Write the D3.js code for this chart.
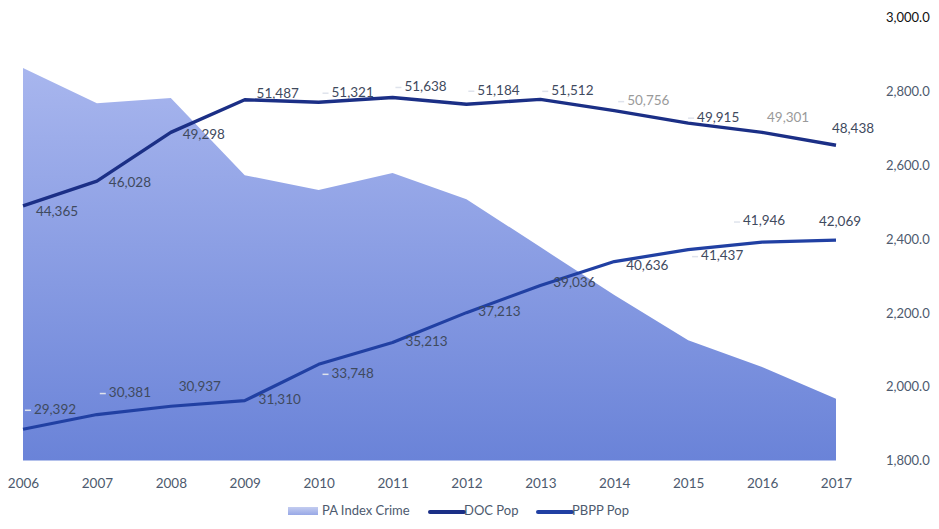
<!DOCTYPE html>
<html>
<head>
<meta charset="utf-8">
<script src="https://cdn.jsdelivr.net/npm/d3@7"></script>
<style>
  html, body { margin: 0; padding: 0; background: #fff; }
  svg { display: block; font-family: Lato, "Open Sans", sans-serif; }
</style>
</head>
<body>
<svg id="chart" width="939" height="529"></svg>
<script>
// Years on the x axis
const years = [2006, 2007, 2008, 2009, 2010, 2011, 2012, 2013, 2014, 2015, 2016, 2017];
// PA Index Crime (right axis)
const crime = [2863, 2768, 2782, 2573, 2533, 2579, 2508, 2378, 2248, 2126, 2053, 1967];
// DOC population
const docPop = [44365, 46028, 49298, 51487, 51321, 51638, 51184, 51512, 50756, 49915, 49301, 48438];
// PBPP population
const pbppPop = [29392, 30381, 30937, 31310, 33748, 35213, 37213, 39036, 40636, 41437, 41946, 42069];
// Right axis tick values
const rightTicks = [1800, 2000, 2200, 2400, 2600, 2800, 3000];
const seriesNames = ["PA Index Crime", "DOC Pop", "PBPP Pop"];

// Label placement (offset of each data label from its point, px)
const docLabelOffsets = [[34, 7], [33, 2], [33, 3], [33, -5], [34, -9], [33, -10], [32, -13], [32, -8], [34, -9], [30, -5], [26, -14], [17, -16]];
const pbppLabelOffsets = [[32, -19], [33, -21], [29, -19], [35, 0], [34, 10], [34, 0], [33, 0], [34, -2], [33, 5], [34, 7], [2, -20], [4, -18]];
const docLeaders = new Set([2010, 2011, 2012, 2013, 2014, 2015]);
const pbppLeaders = new Set([2006, 2007, 2010, 2015, 2016]);
const docMuted = new Set([2014, 2016]);

const svg = d3.select("#chart");
const fmt = d3.format(",");

const x = d3.scalePoint().domain(years).range([23, 836]);
const yRight = d3.scaleLinear().domain([1800, 3000]).range([460.5, 17.5]);
const yLeft = d3.scaleLinear().domain([27300, 57000]).range([460.5, 17.5]);

// Gradient for the crime area
const defs = svg.append("defs");
const grad = defs.append("linearGradient")
  .attr("id", "crimeFill").attr("x1", 0).attr("y1", 0).attr("x2", 0).attr("y2", 1);
grad.append("stop").attr("offset", "0%").attr("stop-color", "#a8b6ee");
grad.append("stop").attr("offset", "100%").attr("stop-color", "#6a83d8");
const lgGrad = defs.append("linearGradient")
  .attr("id", "legendFill").attr("x1", 0).attr("y1", 0).attr("x2", 0).attr("y2", 1);
lgGrad.append("stop").attr("offset", "0%").attr("stop-color", "#c3ccf0");
lgGrad.append("stop").attr("offset", "100%").attr("stop-color", "#98a8e6");

// Crime area
const area = d3.area()
  .x((d, i) => x(years[i]))
  .y0(yRight(1800))
  .y1(d => yRight(d));
svg.append("path")
  .datum(crime)
  .attr("d", area)
  .attr("fill", "url(#crimeFill)");

// Right axis labels
const rAxis = d3.axisRight(yRight).tickValues(rightTicks)
  .tickFormat(d3.format(",.1f")).tickSize(0).tickPadding(0);
const rg = svg.append("g").attr("transform", "translate(886,0)").call(rAxis);
rg.select(".domain").remove();
rg.selectAll("text")
  .attr("font-size", 13)
  .attr("font-family", "Lato, 'Open Sans', sans-serif")
  .attr("fill", d => d === 3000 ? "#111" : "#4d5a6e");

// Bottom axis labels
const bAxis = d3.axisBottom(x).tickSize(0).tickPadding(0);
const bg = svg.append("g").attr("transform", "translate(0,478)").call(bAxis);
bg.select(".domain").remove();
bg.selectAll("text")
  .attr("font-size", 13.5)
  .attr("font-family", "Lato, 'Open Sans', sans-serif")
  .attr("fill", "#4d5a6e");

// Lines
const line = d3.line().x((d, i) => x(years[i])).y(d => yLeft(d));
svg.append("path").datum(docPop).attr("d", line)
  .attr("fill", "none").attr("stroke", "#1b2f86").attr("stroke-width", 3.4)
  .attr("stroke-linejoin", "round");
svg.append("path").datum(pbppPop).attr("d", line)
  .attr("fill", "none").attr("stroke", "#2140a3").attr("stroke-width", 3.2)
  .attr("stroke-linejoin", "round");

// Data labels with faint leader lines
function drawLabels(values, offsets, leaders, muted) {
  const g = svg.append("g");
  values.forEach((v, i) => {
    const px = x(years[i]), py = yLeft(v);
    const lx = px + offsets[i][0], ly = py + offsets[i][1];
    const t = g.append("text")
      .attr("x", lx).attr("y", ly)
      .attr("text-anchor", "middle").attr("dominant-baseline", "middle")
      .attr("font-size", 13.5)
      .attr("fill", muted.has(years[i]) ? "#9a9a9a" : "#3f4a5e")
      .text(fmt(v));
    if (leaders.has(years[i])) {
      const w = t.node().getComputedTextLength();
      const left = lx - w / 2 - 3;
      g.insert("path", "text")
        .attr("d", `M${left - 6},${ly} L${left},${ly}`)
        .attr("stroke", "#dfe3ec").attr("stroke-width", 1.5).attr("fill", "none");
    }
  });
}
drawLabels(docPop, docLabelOffsets, docLeaders, docMuted);
drawLabels(pbppPop, pbppLabelOffsets, pbppLeaders, new Set());

// Legend
const lg = svg.append("g").attr("font-size", 13).attr("fill", "#4d5a6e");
lg.append("rect").attr("x", 288).attr("y", 507).attr("width", 30).attr("height", 8)
  .attr("fill", "url(#legendFill)");
lg.append("text").attr("x", 322).attr("y", 512).attr("dominant-baseline", "middle").text(seriesNames[0]);
lg.append("line").attr("x1", 430).attr("x2", 464).attr("y1", 512).attr("y2", 512)
  .attr("stroke", "#1b2f86").attr("stroke-width", 4).attr("stroke-linecap", "round");
lg.append("text").attr("x", 464).attr("y", 512).attr("dominant-baseline", "middle").text(seriesNames[1]);
lg.append("line").attr("x1", 538).attr("x2", 572).attr("y1", 512).attr("y2", 512)
  .attr("stroke", "#2140a3").attr("stroke-width", 4).attr("stroke-linecap", "round");
lg.append("text").attr("x", 572).attr("y", 512).attr("dominant-baseline", "middle").text(seriesNames[2]);
</script>
</body>
</html>
